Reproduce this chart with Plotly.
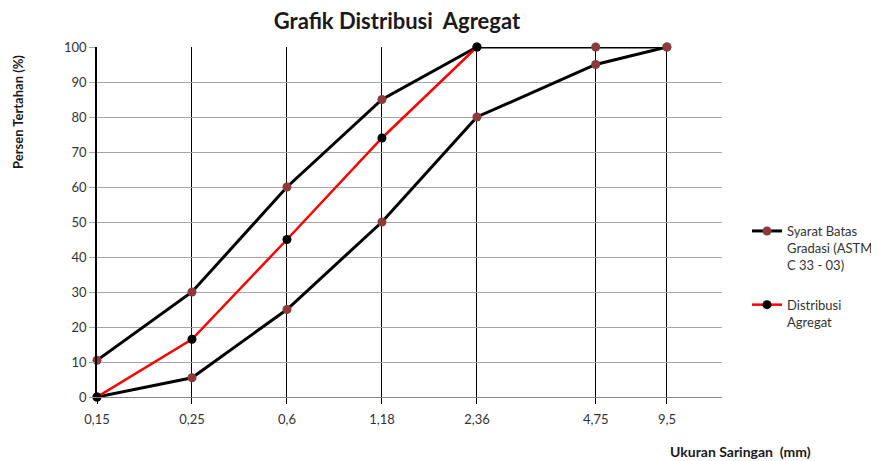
import plotly.graph_objects as go

# Data
sieve_labels = ["0,15", "0,25", "0,6", "1,18", "2,36", "4,75", "9,5"]
# axis scale position of each sieve label (non-uniform as in the reference axis)
sieve_scale = [0, 1, 2, 3, 4, 5.25, 6]
batas_atas = [10.5, 30, 60, 85, 100, 100, 100]
batas_bawah = [0, 5.5, 25, 50, 80, 95, 100]
distribusi_sieves = ["0,15", "0,25", "0,6", "1,18", "2,36"]
distribusi = [0, 16.5, 45, 74, 100]

pos = dict(zip(sieve_labels, sieve_scale))
FONT = "Lato"
brown = "#8C3B3B"

fig = go.Figure()
fig.add_trace(go.Scatter(
    x=sieve_scale, y=batas_atas, mode="lines+markers",
    name="Syarat Batas<br>Gradasi (ASTM<br>C 33 - 03)",
    line=dict(color="black", width=3),
    marker=dict(color=brown, size=9),
    legendgroup="a", cliponaxis=False))
fig.add_trace(go.Scatter(
    x=sieve_scale, y=batas_bawah, mode="lines+markers",
    name="Syarat Batas", showlegend=False,
    line=dict(color="black", width=3),
    marker=dict(color=brown, size=9),
    legendgroup="a", cliponaxis=False))
fig.add_trace(go.Scatter(
    x=[pos[s] for s in distribusi_sieves], y=distribusi, mode="lines+markers",
    name="Distribusi<br>Agregat",
    line=dict(color="#FF0000", width=2.5),
    marker=dict(color="black", size=9),
    legendgroup="b", cliponaxis=False))

# page body adds an 8px offset; plot area set so it lands at x 97-722, y 47-397 on screen
L, R, T, B = 89, 714, 39, 389
W, H = R - L, B - T

fig.update_layout(
    width=879, height=461,
    margin=dict(l=L, r=879 - R, t=T, b=461 - B, autoexpand=False),
    paper_bgcolor="white", plot_bgcolor="white",
    font=dict(family=FONT, size=13, color="#333333"),
    title=dict(text="<b>Grafik Distribusi  Agregat</b>", x=389 / 879, xanchor="center",
               y=1 - 13 / 461, yanchor="middle",
               font=dict(family=FONT, size=22, color="#1a1a1a")),
    showlegend=True,
    legend=dict(x=(739 - L) / W, xanchor="left", y=1 - (208 - T) / H, yanchor="top",
                traceorder="grouped", tracegroupgap=20, valign="top",
                font=dict(family=FONT, size=13, color="#333333"),
                bgcolor="rgba(0,0,0,0)"),
    xaxis=dict(
        range=[0, 6.58], tickmode="array", tickvals=sieve_scale, ticktext=sieve_labels,
        showgrid=True, gridcolor="black", gridwidth=1,
        showline=True, linecolor="#888888", linewidth=1,
        ticks="outside", ticklen=6, tickcolor="black", tickwidth=1,
        ticklabelstandoff=4,
        zeroline=False, tickfont=dict(family=FONT, size=13, color="#333333"),
    ),
    yaxis=dict(
        range=[0, 100], dtick=10, tick0=0,
        showgrid=True, gridcolor="#A6A6A6", gridwidth=1,
        showline=True, linecolor="black", linewidth=1.5,
        ticks="outside", ticklen=6, tickcolor="#A6A6A6",
        zeroline=False, tickfont=dict(family=FONT, size=13, color="#333333"),
    ),
)
fig.add_annotation(text="<b>Persen Tertahan (%)</b>", textangle=-90,
                   xref="paper", yref="paper", x=(10 - L) / W, y=1 - (104 - T) / H,
                   xanchor="center", yanchor="middle", showarrow=False,
                   font=dict(family=FONT, size=13, color="#1a1a1a"))
fig.add_annotation(text="<b>Ukuran Saringan  (mm)</b>",
                   xref="paper", yref="paper", x=(660 - L) / W, y=-(444 - B) / H,
                   xanchor="left", yanchor="middle", showarrow=False,
                   font=dict(family=FONT, size=14, color="#1a1a1a"))

fig.write_html("out.html")
